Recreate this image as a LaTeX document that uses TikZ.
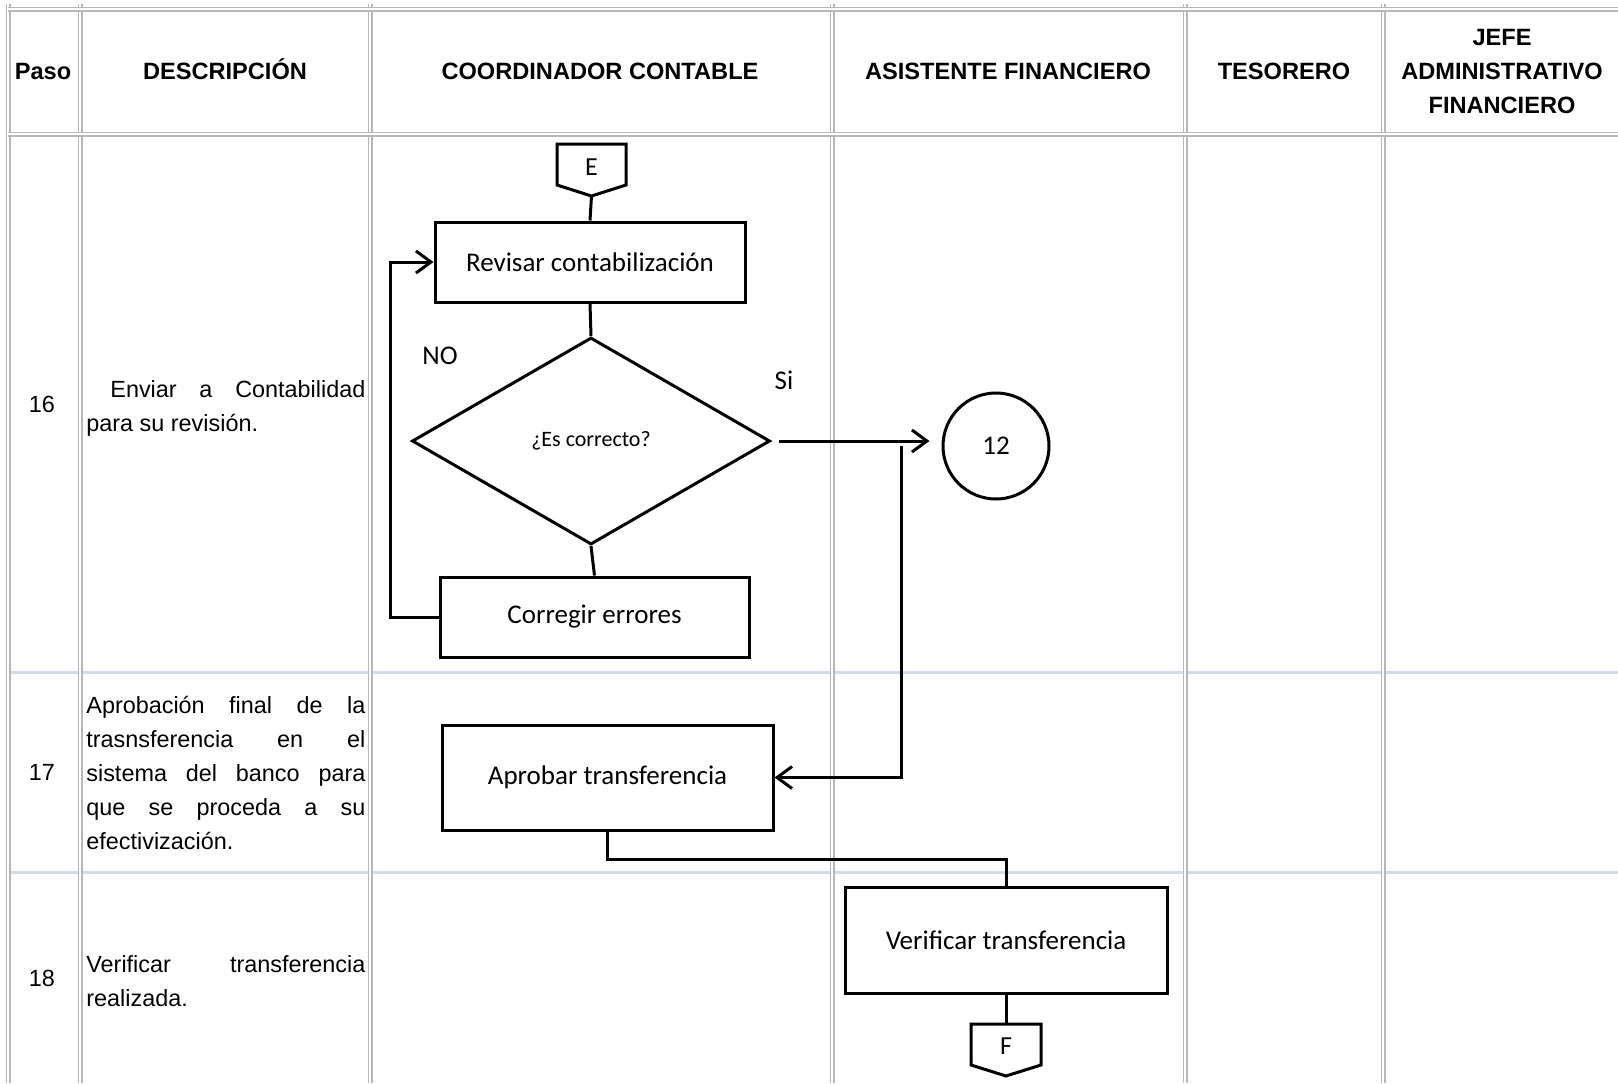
\documentclass[tikz,border=0pt]{standalone}
\usepackage{fontspec}
\setmainfont{Liberation Sans}
\newfontfamily\calfont{Carlito}
\usetikzlibrary{shapes.geometric,arrows.meta}
\definecolor{gridgray}{HTML}{B8B8B8}
\definecolor{rowline}{HTML}{D3DAE8}
\begin{document}
\begin{tikzpicture}[x=0.5pt,y=-0.5pt,
  cell/.style={draw=gridgray,line width=0.7pt,double=white,double distance=1.1pt},
  rowsep/.style={draw=rowline,line width=1.5pt},
  hdr/.style={font=\fontsize{11.8pt}{17pt}\selectfont\bfseries,anchor=base,inner sep=0},
  desc/.style={font=\fontsize{11.7pt}{17pt}\selectfont,anchor=base west,inner sep=0},
  num/.style={font=\fontsize{11.7pt}{17pt}\selectfont,anchor=base,inner sep=0},
  box/.style={draw,line width=1.5pt,rectangle,inner sep=0,font=\calfont\fontsize{13.5pt}{16pt}\selectfont},
  flow/.style={line width=1.5pt},
  arr/.style={flow,-{Straight Barb[length=7.5pt,width=11pt,line width=1.5pt]}},
  lbl/.style={font=\calfont\fontsize{13.5pt}{16pt}\selectfont,inner sep=0}
]
\useasboundingbox (0,0) rectangle (1618,1083);
% row separators
\draw[rowsep] (8,672) -- (1618,672);
\draw[rowsep] (8,872) -- (1618,872);
% grid
\foreach \gx in {8,80,370,832,1185,1383}{\draw[cell] (\gx,4) -- (\gx,1083);}
\draw[cell] (8,9) -- (1618,9);
\draw[cell] (8,134) -- (1618,134);
% headers
\node[hdr] (hpaso) at (43,79.5) {Paso};
\node[hdr] (hdesc) at (225,79.5) {DESCRIPCIÓN};
\node[hdr] (hcoord) at (600,79.5) {COORDINADOR CONTABLE};
\node[hdr] (hasis) at (1008,79.5) {ASISTENTE FINANCIERO};
\node[hdr] (htes) at (1284,79.5) {TESORERO};
\node[hdr] (hjefe1) at (1502,45.5) {JEFE};
\node[hdr] (hjefe2) at (1502,79.5) {ADMINISTRATIVO};
\node[hdr] (hjefe3) at (1502,113.5) {FINANCIERO};
% step numbers
\node[num] (n16) at (42,412) {16};
\node[num] (n17) at (42,780.5) {17};
\node[num] (n18) at (42,986.5) {18};
% descriptions
\node[desc] (d16a) at (110,397) {\makebox[127.5pt][s]{Enviar a Contabilidad}};
\node[desc] (d16b) at (86,431) {para su revisión.};
\node[desc] (d17a) at (86,713.5) {\makebox[139.5pt][s]{Aprobación final de la}};
\node[desc] (d17b) at (86,747.5) {\makebox[139.5pt][s]{trasnsferencia en el}};
\node[desc] (d17c) at (86,781.5) {\makebox[139.5pt][s]{sistema del banco para}};
\node[desc] (d17d) at (86,815.5) {\makebox[139.5pt][s]{que se proceda a su}};
\node[desc] (d17e) at (86,849.5) {efectivización.};
\node[desc] (d18a) at (86,972.5) {\makebox[139.5pt][s]{Verificar transferencia}};
\node[desc] (d18b) at (86,1006.5) {realizada.};
% flow shapes
\draw[flow] (557,144) -- (626,144) -- (626,185) -- (591.5,196) -- (557,185) -- cycle;
\node[lbl,font=\calfont\fontsize{13pt}{15pt}\selectfont] (E) at (591.5,167) {E};
\coordinate (Ebot) at (591.5,196);
\node[box,minimum width=155pt,minimum height=40pt] (rev) at (590,262) {Revisar contabilización};
\node[draw,diamond,line width=1.5pt,inner sep=0,minimum width=179pt,minimum height=103.5pt,font=\calfont\fontsize{11pt}{13pt}\selectfont] (dia) at (591,441) {¿Es correcto?};
\node[box,minimum width=154.5pt,minimum height=40pt] (cor) at (594.5,617) {Corregir errores};
\node[draw,circle,line width=1.5pt,minimum size=53pt,lbl] (c12) at (996,446) {12};
\node[box,minimum width=165.5pt,minimum height=52.5pt] (apr) at (607.5,777.5) {Aprobar transferencia};
\node[box,minimum width=161pt,minimum height=53pt] (ver) at (1006,940) {Verificar transferencia};
\draw[flow] (971,1024) -- (1041,1024) -- (1041,1065) -- (1006,1076) -- (971,1065) -- cycle;
\node[lbl,font=\calfont\fontsize{13pt}{15pt}\selectfont] (F) at (1006,1046) {F};
\coordinate (Ftop) at (1006,1024);
% labels
\node[lbl] (no) at (440,356) {NO};
\node[lbl] (si) at (784,380) {Si};
% connectors
\draw[flow] (Ebot) -- (rev.north);
\draw[flow] (rev.south) -- (dia.north);
\draw[flow] (dia.south) -- (cor.north);
\draw[arr] (cor.west) -- ++(-48,0) |- (rev.west);
\draw[arr,shorten <=3.5pt,shorten >=6pt] (dia.east) -- (dia.east -| c12.west);
\coordinate (j) at (901,446);
\draw[arr] (j) |- (apr.east);
\draw[flow] (apr.south) -- ++(0,28) -| (ver.north);
\draw[flow] (ver.south) -- (Ftop);
\end{tikzpicture}
\end{document}
